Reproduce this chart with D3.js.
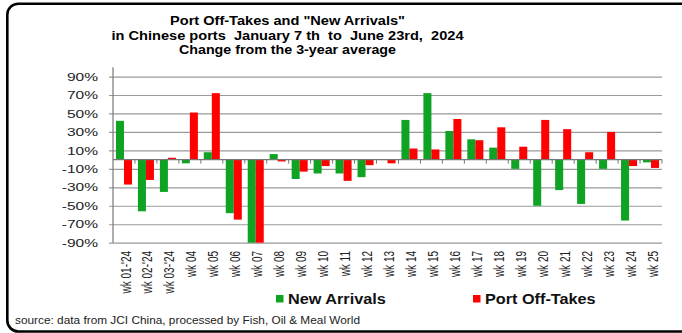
<!DOCTYPE html>
<html>
<head>
<meta charset="utf-8">
<script src="https://cdn.jsdelivr.net/npm/d3@7"></script>
<style>
  html, body { margin: 0; padding: 0; background: #fff; }
  svg { display: block; font-family: "Liberation Sans", Arial, sans-serif; }
</style>
</head>
<body>
<svg id="chart" width="682" height="333"></svg>
<script>
// Weekly change versus the 3-year average, in percent
const weeks = ["wk 01-'24", "wk 02-'24", "wk 03-'24", "wk 04", "wk 05", "wk 06", "wk 07", "wk 08",
  "wk 09", "wk 10", "wk 11", "wk 12", "wk 13", "wk 14", "wk 15", "wk 16", "wk 17", "wk 18",
  "wk 19", "wk 20", "wk 21", "wk 22", "wk 23", "wk 24", "wk 25"];
const newArrivals = [42, -56, -35, -4, 8, -58, -90, 6, -21, -15, -15, -19, -0.5, 43, 72, 31,
  22, 13, -10, -50, -33, -48, -10, -66, -3];
const portOffTakes = [-27, -22, 2, 51, 72, -65, -90, -2, -13, -7, -23, -6, -4, 12, 11, 44,
  21, 35, 14, 43, 33, 8, 30, -7, -9];
const seriesNames = ["New Arrivals", "Port Off-Takes"];
const seriesColors = ["#0ea322", "#ff0000"];
const yTicks = [90, 70, 50, 30, 10, -10, -30, -50, -70, -90];
const titleLines = ["Port Off-Takes and \"New Arrivals\"",
  "in Chinese ports  January 7 th  to  June 23rd,  2024",
  "Change from the 3-year average"];
const sourceNote = "source: data from JCI China, processed by Fish, Oil & Meal World";

const svg = d3.select("#chart");

// outer rounded frame
svg.append("rect")
  .attr("x", 7.3).attr("y", 3.7)
  .attr("width", 700).attr("height", 327.8)
  .attr("rx", 11).attr("ry", 11)
  .attr("fill", "#fff").attr("stroke", "#000").attr("stroke-width", 2.6);

const plot = { left: 113, right: 662, top: 67.3, bottom: 242.7 };

const x = d3.scaleBand().domain(weeks).range([plot.left, plot.right]).padding(0);
const x1 = d3.scaleBand().domain(seriesNames).range([0, x.bandwidth()])
  .paddingInner(0).paddingOuter(0.37);
const y = d3.scaleLinear().domain([-90, 100]).range([plot.bottom, plot.top]);

// horizontal gridlines with tick marks to the left
const yAxis = d3.axisLeft(y).tickValues(yTicks).tickSize(-(plot.right - plot.left) - 4)
  .tickFormat(d => d + "%");
const gy = svg.append("g").attr("transform", `translate(${plot.left},0)`).call(yAxis);
gy.select(".domain").remove();
gy.selectAll(".tick line")
  .attr("x1", -4).attr("x2", plot.right - plot.left)
  .attr("stroke", "#9a9a9a").attr("stroke-width", 1.2);
gy.selectAll(".tick text").remove();

// y tick labels, slightly widened
const yLab = svg.append("g");
yTicks.forEach(v => {
  yLab.append("text")
    .attr("transform", `translate(98,${y(v)}) scale(1.35,1)`)
    .attr("dy", "0.36em")
    .attr("text-anchor", "end")
    .attr("font-size", 11.5)
    .attr("fill", "#222")
    .text(v + "%");
});

// vertical axis line
svg.append("line")
  .attr("x1", plot.left).attr("x2", plot.left)
  .attr("y1", plot.top).attr("y2", plot.bottom)
  .attr("stroke", "#777").attr("stroke-width", 1.2);

// bars
const rows = weeks.map((w, i) => ({ week: w, values: [newArrivals[i], portOffTakes[i]] }));
const groups = svg.append("g").selectAll("g").data(rows).join("g")
  .attr("transform", d => `translate(${x(d.week)},0)`);
groups.selectAll("rect")
  .data(d => d.values.map((v, k) => ({ v, k })))
  .join("rect")
  .attr("x", d => x1(seriesNames[d.k]))
  .attr("width", x1.bandwidth())
  .attr("y", d => Math.min(y(d.v), y(0)))
  .attr("height", d => Math.abs(y(d.v) - y(0)))
  .attr("fill", d => seriesColors[d.k]);

// category axis at zero with small tick marks between weeks
svg.append("line")
  .attr("x1", plot.left).attr("x2", plot.right)
  .attr("y1", y(0)).attr("y2", y(0))
  .attr("stroke", "#777").attr("stroke-width", 1.2);
svg.append("g").selectAll("line").data(weeks).join("line")
  .attr("x1", d => x(d) + x.bandwidth()).attr("x2", d => x(d) + x.bandwidth())
  .attr("y1", y(0)).attr("y2", y(0) + 4)
  .attr("stroke", "#777").attr("stroke-width", 1);

// rotated week labels below the plot
svg.append("g").selectAll("text").data(weeks).join("text")
  .attr("transform", d => `translate(${x(d) + x.bandwidth() / 2 + 1.5},251) scale(1.4,1) rotate(-90)`)
  .attr("dy", "0.36em")
  .attr("text-anchor", "end")
  .attr("font-size", 10)
  .attr("fill", "#222")
  .text(d => d);

// title block
const titleSpecs = [
  { y: 24.5, size: 13.5, len: 235 },
  { y: 39.5, size: 13.5, len: 352 },
  { y: 53.5, size: 12, len: 217 }
];
titleLines.forEach((t, i) => {
  const s = titleSpecs[i];
  svg.append("text")
    .attr("x", 287.5).attr("y", s.y)
    .attr("text-anchor", "middle")
    .attr("font-size", s.size).attr("font-weight", "bold")
    .attr("textLength", s.len).attr("lengthAdjust", "spacingAndGlyphs")
    .style("white-space", "pre")
    .text(t);
});

// legend
const legendX = [276, 473];
seriesNames.forEach((n, k) => {
  svg.append("rect")
    .attr("x", legendX[k]).attr("y", 295)
    .attr("width", 7.5).attr("height", 7.5)
    .attr("fill", seriesColors[k]);
  svg.append("text")
    .attr("transform", `translate(${legendX[k] + 12},303.5) scale(1.16,1)`)
    .attr("font-size", 14).attr("font-weight", "bold")
    .attr("fill", "#111")
    .text(n);
});

// source note
svg.append("text")
  .attr("x", 15).attr("y", 324)
  .attr("font-size", 11.5)
  .attr("fill", "#222")
  .attr("textLength", 345).attr("lengthAdjust", "spacingAndGlyphs")
  .text(sourceNote);
</script>
</body>
</html>
